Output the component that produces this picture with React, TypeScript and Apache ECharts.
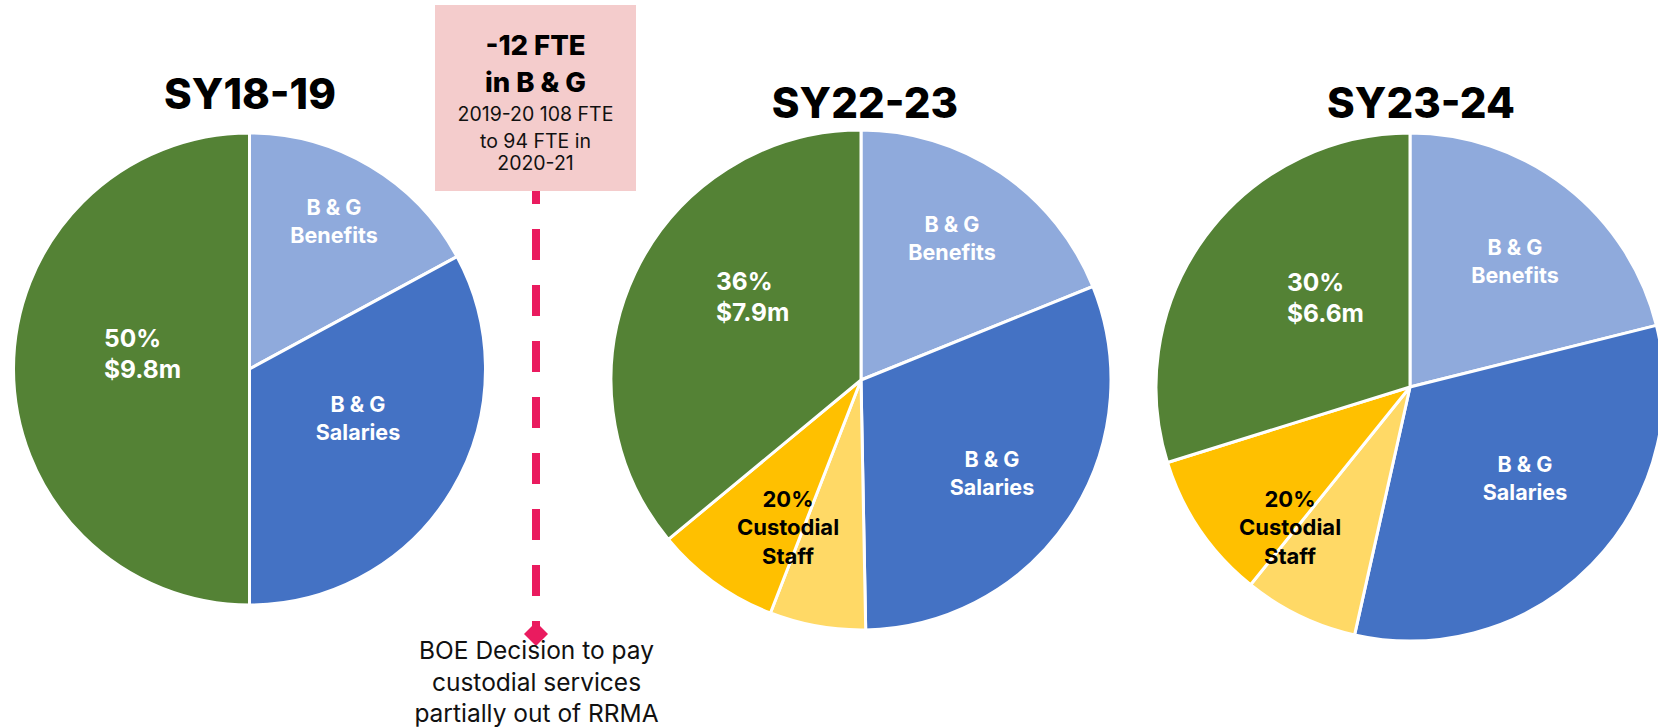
import React, { useEffect, useRef } from 'react';
import * as echarts from 'echarts';

// ---------- data ----------
const categories = ['B & G Benefits', 'B & G Salaries', 'Custodial (RRMA)', 'Custodial Staff', 'Other'];
const years = ['SY18-19', 'SY22-23', 'SY23-24'];
const sy1819 = [17.1, 32.9, 0, 0, 50];
const sy2223 = [18.9, 30.8, 6.2, 8.1, 36];
const sy2324 = [21.1, 32.4, 7.3, 9.4, 29.8];
const otherLabels = ['50%\n$9.8m', '36%\n$7.9m', '30%\n$6.6m'];
const custodialLabel = '20%\nCustodial\nStaff';
const noteHead = ['-12 FTE', 'in B & G'];
const noteBody = ['2019-20 108 FTE', 'to 94 FTE in', '2020-21'];
const decisionText = ['BOE Decision to pay', 'custodial services', 'partially out of RRMA'];

// ---------- styling / layout ----------
const COLORS = ['#8FAADC', '#4472C4', '#FFD966', '#FFC000', '#548235'];
const FONT = 'Inter, "Noto Sans", sans-serif';
const PIES = [
  { cx: 249.5, cy: 369, r: 236, tx: 250, ty: 93 },
  { cx: 861, cy: 380, r: 250, tx: 865, ty: 102 },
  { cx: 1410, cy: 387, r: 254, tx: 1421, ty: 102 },
];
// label anchor spots per pie, keyed by category index
const SPOTS: Record<number, [number, number, string]>[] = [
  { 0: [334, 221, 'center'], 1: [358, 418, 'center'], 4: [104, 353, 'left'] },
  { 0: [952, 238, 'center'], 1: [992, 473, 'center'], 3: [788, 527, 'center'], 4: [716, 296, 'left'] },
  { 0: [1515, 261, 'center'], 1: [1525, 478, 'center'], 3: [1290, 527, 'center'], 4: [1287, 297, 'left'] },
];

const seriesValues = [sy1819, sy2223, sy2324];

function labelFor(pieIdx: number, catIdx: number) {
  const base = { show: true, position: 'inside', fontFamily: FONT, fontWeight: 'bold' };
  if (catIdx === 0) return { ...base, formatter: 'B & G\nBenefits', color: '#fff', fontSize: 21.5, lineHeight: 28 };
  if (catIdx === 1) return { ...base, formatter: 'B & G\nSalaries', color: '#fff', fontSize: 21.5, lineHeight: 28 };
  if (catIdx === 3) return { ...base, formatter: custodialLabel, color: '#000', fontSize: 22, lineHeight: 28.5 };
  if (catIdx === 4) return { ...base, formatter: otherLabels[pieIdx], color: '#fff', fontSize: 24.5, lineHeight: 31, align: 'left' };
  return { show: false };
}

export default function App() {
  const ref = useRef<HTMLDivElement>(null);
  useEffect(() => {
    document.body.style.margin = '0';
    const chart = echarts.init(ref.current!, undefined, { renderer: 'svg' });
    const series = seriesValues.map((vals, p) => {
      const data: any[] = [];
      const catIdxs: number[] = [];
      vals.forEach((v, c) => {
        if (v > 0) {
          data.push({ value: v, name: categories[c], itemStyle: { color: COLORS[c] }, label: labelFor(p, c) });
          catIdxs.push(c);
        }
      });
      return {
        type: 'pie',
        name: years[p],
        center: [PIES[p].cx, PIES[p].cy],
        radius: [0, PIES[p].r],
        startAngle: 90,
        clockwise: true,
        silent: true,
        avoidLabelOverlap: false,
        labelLine: { show: false },
        emphasis: { disabled: true },
        itemStyle: { borderColor: '#fff', borderWidth: 3 },
        data,
        labelLayout: (params: any) => {
          const c = catIdxs[params.dataIndex];
          const spot = SPOTS[p][c];
          if (!spot) return {};
          return { x: spot[0], y: spot[1], align: spot[2], verticalAlign: 'middle' };
        },
      };
    });

    const graphic: any[] = [];
    years.forEach((t, i) => {
      graphic.push({
        type: 'text', x: PIES[i].tx, y: PIES[i].ty, z: 10,
        style: { text: t, fontFamily: FONT, fontWeight: 800, fontSize: 42, fill: '#000', align: 'center', verticalAlign: 'middle' },
      });
    });
    graphic.push({ type: 'rect', shape: { x: 435, y: 5, width: 201, height: 186 }, style: { fill: '#F4CCCC' } });
    const headY = [45, 82];
    noteHead.forEach((t, i) => graphic.push({
      type: 'text', x: 535.5, y: headY[i], z: 11,
      style: { text: t, fontFamily: FONT, fontWeight: 800, fontSize: 27.5, fill: '#000', align: 'center', verticalAlign: 'middle' },
    }));
    const bodyY = [114, 140.5, 163];
    noteBody.forEach((t, i) => graphic.push({
      type: 'text', x: 535.5, y: bodyY[i], z: 11,
      style: { text: t, fontFamily: FONT, fontSize: 19.5, fill: '#111', align: 'center', verticalAlign: 'middle' },
    }));
    graphic.push({
      type: 'line', shape: { x1: 536, y1: 191, x2: 536, y2: 628 },
      style: { stroke: '#EA1B5F', lineWidth: 8, lineDash: [31, 25], lineDashOffset: 17.5 },
    });
    graphic.push({
      type: 'polygon', shape: { points: [[536, 622], [548, 634], [536, 646], [524, 634]] },
      style: { fill: '#EA1B5F' },
    });
    const decY = [650, 681.5, 713];
    decisionText.forEach((t, i) => graphic.push({
      type: 'text', x: 536.5, y: decY[i], z: 11,
      style: { text: t, fontFamily: FONT, fontSize: 24.5, fill: '#111', align: 'center', verticalAlign: 'middle' },
    }));

    chart.setOption({
      animation: false,
      backgroundColor: '#fff',
      series,
      graphic,
    });
    return () => chart.dispose();
  }, []);
  return <div ref={ref} style={{ width: 1658, height: 727 }} />;
}
